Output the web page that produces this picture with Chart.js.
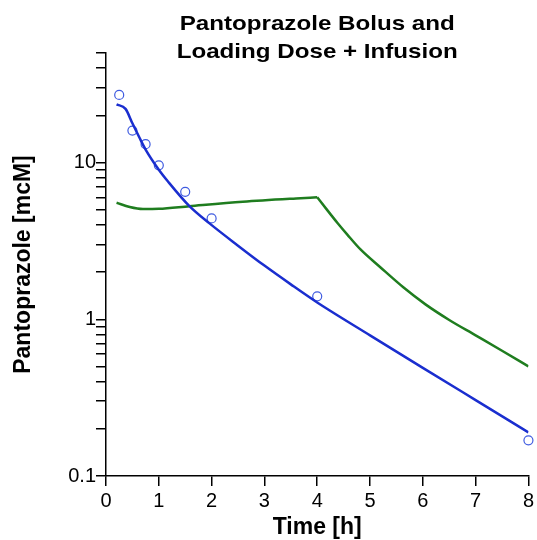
<!DOCTYPE html>
<html>
<head>
<meta charset="utf-8">
<script src="https://cdn.jsdelivr.net/npm/chart.js@4"></script>
<style>
  html, body { margin: 0; padding: 0; background: #fff; }
  #wrap { width: 537px; height: 540px; }
</style>
</head>
<body>
<div id="wrap"><canvas id="grafico"></canvas></div>
<script>
// model curve, bolus
const bolusTime = [0.2, 0.37, 0.5, 0.63, 0.75, 1, 1.17, 1.58, 1.96, 2.5, 3, 3.5, 4, 5, 6, 7, 8];
const bolusConc = [23.5, 22.0, 17.8, 14.5, 12.1, 9.0, 7.6, 5.27, 4.09, 2.95, 2.20, 1.67, 1.28, 0.79, 0.49, 0.305, 0.19];

// model curve, loading dose + infusion (during infusion / after stop at 4 h)
const infTime = [0.2, 0.45, 0.7, 1.0, 1.58, 2.59, 3.6, 4];
const infConc = [5.54, 5.2, 5.05, 5.07, 5.27, 5.62, 5.9, 6.0];
const postTime = [4, 4.19, 4.38, 4.57, 4.82, 5.2, 5.63, 6.05, 6.5, 7, 7.5, 8];
const postConc = [6.0, 4.97, 4.13, 3.47, 2.79, 2.14, 1.60, 1.245, 0.99, 0.79, 0.63, 0.5];

// observed
const obsTime = [0.25, 0.5, 0.75, 1, 1.5, 2, 4, 8];
const obsConc = [27, 16.0, 13.1, 9.6, 6.5, 4.4, 1.4, 0.169];

const yTickValues = [0.1, 0.2, 0.3, 0.4, 0.5, 0.6, 0.7, 0.8, 0.9, 1, 2, 3, 4, 5, 6, 7, 8, 9, 10, 20, 30, 40, 50];
const yTickLabels = [0.1, 1, 10];
const titleLines = ['Pantoprazole Bolus and', 'Loading Dose + Infusion'];

const pts = (xs, ys) => xs.map((x, i) => ({ x: x, y: ys[i] }));

const tituloPlugin = {
    id: 'titulo',
    afterDraw(chart) {
        const c = chart.ctx;
        const area = chart.chartArea;
        const cx = (area.left + area.right) / 2;
        c.save();
        c.font = 'bold 21px "Liberation Sans", Arial, sans-serif';
        c.fillStyle = '#000';
        c.textAlign = 'center';
        c.textBaseline = 'alphabetic';
        [30, 58].forEach((y, i) => {
            c.save();
            c.translate(cx, y);
            c.scale(1.15, 1);
            c.fillText(titleLines[i], 0, 0);
            c.restore();
        });
        c.restore();
    }
};

const ctx = document.getElementById('grafico');
const fonte = '"Liberation Sans", Arial, sans-serif';

new Chart(ctx, {
    type: 'line',
    data: {
        datasets: [
            {
                label: 'Bolus',
                data: pts(bolusTime, bolusConc),
                borderColor: '#1a2ecf',
                borderWidth: 2.5,
                pointRadius: 0,
                cubicInterpolationMode: 'monotone',
                fill: false
            },
            {
                label: 'Loading Dose + Infusion',
                data: pts(infTime, infConc),
                borderColor: '#1f7d1f',
                borderWidth: 2.5,
                pointRadius: 0,
                cubicInterpolationMode: 'monotone',
                fill: false
            },
            {
                label: 'Loading Dose + Infusion (after stop)',
                data: pts(postTime, postConc),
                borderColor: '#1f7d1f',
                borderWidth: 2.5,
                pointRadius: 0,
                cubicInterpolationMode: 'monotone',
                fill: false
            },
            {
                label: 'Observed',
                data: pts(obsTime, obsConc),
                showLine: false,
                pointRadius: 4.5,
                pointBorderWidth: 1.2,
                pointBorderColor: '#3f5be0',
                pointBackgroundColor: 'rgba(255,255,255,0)',
                clip: false
            }
        ]
    },
    options: {
        responsive: true,
        maintainAspectRatio: false,
        animation: false,
        layout: { padding: { top: 53, right: 7, left: 0, bottom: 0 } },
        plugins: {
            legend: { display: false },
            tooltip: { enabled: false }
        },
        scales: {
            x: {
                type: 'linear',
                min: 0,
                max: 8,
                afterFit: (s) => { s.height = 64; },
                ticks: {
                    stepSize: 1,
                    padding: 3,
                    color: '#000',
                    font: { family: fonte, size: 20 }
                },
                grid: { drawOnChartArea: false, drawTicks: true, tickLength: 10, color: '#000', lineWidth: 1.5 },
                border: { display: true, color: '#000', width: 1.5 },
                title: {
                    display: true,
                    text: 'Time [h]',
                    color: '#000',
                    padding: { top: 0, bottom: 1 },
                    font: { family: fonte, size: 23, weight: 'bold', lineHeight: 1 }
                }
            },
            y: {
                type: 'logarithmic',
                min: 0.1,
                max: 50,
                afterFit: (s) => { s.width = 106; },
                afterBuildTicks: (s) => { s.ticks = yTickValues.map(v => ({ value: v })); },
                ticks: {
                    autoSkip: false,
                    padding: 0,
                    color: '#000',
                    font: { family: fonte, size: 20 },
                    callback: (v) => yTickLabels.includes(v) ? String(v) : ''
                },
                grid: { drawOnChartArea: false, drawTicks: true, tickLength: 10, color: '#000', lineWidth: 1.5 },
                border: { display: true, color: '#000', width: 1.5 },
                title: {
                    display: true,
                    text: 'Pantoprazole [mcM]',
                    color: '#000',
                    padding: { top: 12, bottom: 0 },
                    font: { family: fonte, size: 23, weight: 'bold', lineHeight: 1 }
                }
            }
        }
    },
    plugins: [tituloPlugin]
});
</script>
</body>
</html>
